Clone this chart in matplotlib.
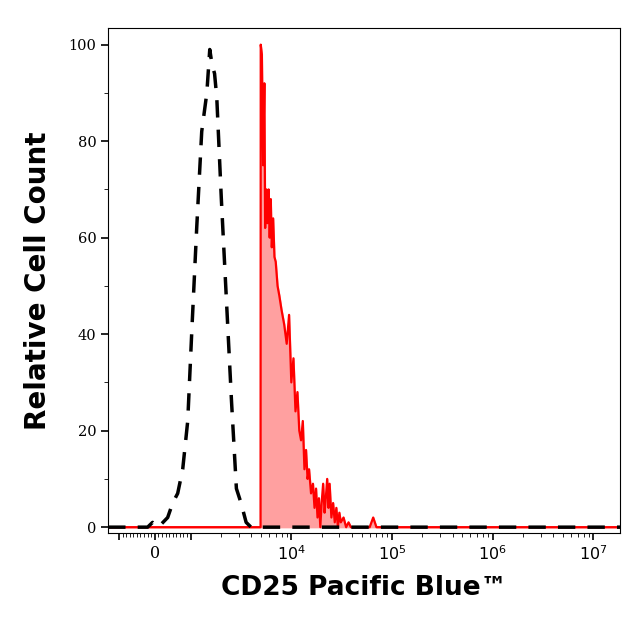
import matplotlib
matplotlib.use("Agg")
import matplotlib.pyplot as plt
import numpy as np

# Isotype control (black dashed)
ctrl_x = [-1280, -200, -60, 100, 230, 360, 500, 640, 780, 920, 1030, 1150, 1290, 1450, 1550, 1630, 1730, 1820, 2020, 2270, 2550, 2850, 3170, 3560, 3980, 1.84e7]
ctrl_y = [0, 0, 1, 0, 1, 2, 5, 7, 12, 22, 41, 62, 82, 90, 99, 96, 94, 89, 68, 47, 26, 8, 5, 1, 0, 0]

# CD25 stained (red filled)
cd25_x = [-1280, 4950, 4970, 5100, 5250, 5400, 5500, 5650, 5800, 5950, 6100, 6250, 6400, 6600, 6800, 7000,
          7300, 7600, 8000, 8500, 9000, 9500, 10000, 10500, 11000, 11500, 12000, 12500, 13000, 13500, 14000,
          14500, 15000, 15700, 16400, 17000, 17600, 18200, 18800, 19400, 20000, 20700, 21400, 22000, 22700,
          23400, 24000, 25000, 26000, 27000, 28000, 29000, 30000, 31000, 33000, 35000, 37000, 39000,
          60000, 65000, 70000, 1.84e7]
cd25_y = [0, 0, 100, 98, 75, 92, 62, 70, 63, 70, 60, 68, 58, 64, 56, 55,
          50, 48, 45, 42, 38, 44, 30, 35, 24, 28, 20, 18, 22, 12, 16,
          10, 12, 7, 9, 4, 8, 2, 6, 0, 5, 9, 3, 6, 10,
          4, 9, 2, 5, 1, 4, 0, 3, 1, 2, 0, 1, 0,
          0, 2, 0, 0]

fig = plt.figure(figsize=(6.4, 6.31), dpi=100)
ax = fig.add_axes([0.169, 0.155, 0.8, 0.801])
ax.set_xscale('symlog', linthresh=1000, linscale=0.32)
ax.fill_between(cd25_x, cd25_y, color='#ffa0a0', zorder=1)
ax.plot(cd25_x, cd25_y, color='red', lw=1.6, zorder=2)
ax.plot(ctrl_x, ctrl_y, color='black', lw=2.5, ls=(0, (5, 3.5)), zorder=3)
ax.set_xlim(-1280, 1.84e7)
ax.set_ylim(-1.25, 103.5)
ax.set_xticks([-1000, 0, 1000, 1e4, 1e5, 1e6, 1e7])
ax.set_xticklabels(['', '0', '', '$10^4$', '$10^5$', '$10^6$', '$10^7$'], fontfamily='DejaVu Serif', fontsize=11.5)
minor = [v * s for s in (1, -1) for v in np.arange(100, 1000, 100)] + \
        [m * 10 ** e for e in range(3, 7) for m in range(2, 10)]
ax.set_xticks(minor, minor=True)
ax.set_yticks([0, 20, 40, 60, 80, 100])
ax.set_yticklabels(['0', '20', '40', '60', '80', '100'], fontfamily='DejaVu Serif', fontsize=10.5)
ax.set_yticks(np.arange(10, 100, 20), minor=True)
ax.tick_params(which='major', length=5, width=1.2)
ax.tick_params(which='minor', length=3)
ax.set_xlabel('CD25 Pacific Blue™', fontsize=19, fontweight='bold', labelpad=8)
ax.set_ylabel('Relative Cell Count', fontsize=20, fontweight='bold', labelpad=12)
fig.savefig('out.png', dpi=100)
